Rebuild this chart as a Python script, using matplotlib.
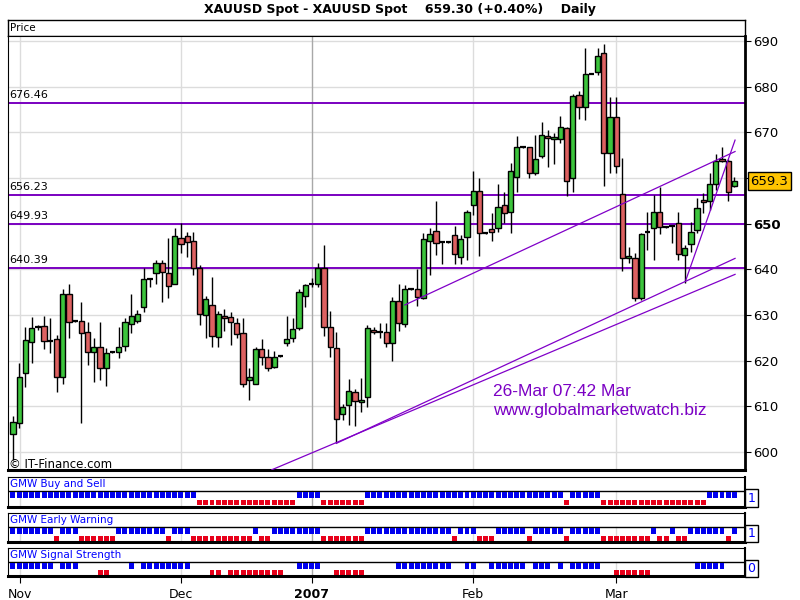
import matplotlib
matplotlib.use('Agg')
import matplotlib.pyplot as plt
from matplotlib.patches import Rectangle

opens = [603.9, 606.3, 617.2, 624.0, 627.3, 627.5, 624.5, 624.7, 616.5, 634.7,
         628.6, 628.7, 626.2, 621.8, 623.1, 618.3, 621.8, 621.8, 623.3, 628.0,
         628.7, 631.7, 637.8, 639.1, 641.3, 639.3, 636.9, 646.8, 647.2, 646.1,
         640.2, 630.0, 632.3, 625.1, 629.8, 629.5, 628.2, 626.0, 615.8, 615.0,
         622.5, 620.7, 618.7, 621.0, 623.8, 625.0, 627.1, 634.2, 636.6, 636.8,
         640.2, 627.3, 622.7, 608.3, 610.4, 613.1, 610.9, 612.1, 626.7, 626.3,
         626.2, 623.8, 633.1, 628.0, 635.6, 635.6, 633.7, 646.3, 648.4, 645.9,
         645.9, 647.5, 642.6, 647.0, 654.2, 657.1, 647.9, 648.8, 649.0, 654.2,
         652.5, 660.2, 666.7, 666.7, 661.2, 664.8, 669.2, 668.5, 668.5, 670.9,
         659.9, 678.2, 675.6, 682.8, 683.3, 687.3, 665.4, 673.3, 656.6, 642.4,
         642.4, 633.7, 647.9, 649.0, 652.5, 649.2, 649.3, 650.1, 643.1, 645.5,
         648.6, 655.1, 654.9, 658.6, 664.2, 663.8, 658.3]
highs = [607.9, 619.6, 627.3, 629.5, 627.8, 629.8, 629.3, 625.6, 635.8, 636.9,
         628.8, 632.8, 628.5, 624.9, 628.4, 622.7, 621.9, 627.3, 629.3, 634.7,
         631.1, 640.4, 637.9, 642.0, 642.0, 646.8, 649.0, 650.1, 648.2, 648.2,
         641.0, 634.2, 638.4, 630.9, 631.3, 630.6, 629.3, 629.3, 618.3, 623.1,
         624.7, 622.5, 622.1, 621.1, 629.8, 629.3, 635.8, 636.9, 638.0, 641.4,
         645.3, 630.9, 626.3, 610.5, 615.9, 613.7, 616.1, 627.8, 627.4, 628.2,
         628.2, 634.0, 636.7, 636.6, 635.7, 640.1, 647.9, 649.1, 655.0, 646.0,
         646.0, 649.5, 647.5, 653.0, 661.5, 659.9, 648.0, 652.3, 658.6, 656.9,
         663.2, 669.2, 666.8, 666.7, 669.4, 672.3, 670.5, 669.9, 673.6, 671.2,
         678.5, 679.0, 688.4, 682.9, 688.4, 689.3, 677.7, 677.7, 664.4, 645.0,
         643.5, 648.0, 652.5, 656.2, 658.1, 649.3, 649.4, 652.5, 645.3, 650.3,
         655.6, 656.7, 661.0, 665.3, 666.7, 664.2, 660.2]
lows = [598.2, 605.3, 614.3, 619.4, 626.8, 622.5, 621.7, 613.2, 615.0, 625.0,
        628.4, 606.3, 619.0, 615.4, 615.8, 614.5, 621.7, 620.5, 622.2, 626.1,
        628.3, 630.6, 636.2, 636.9, 632.9, 633.7, 636.8, 643.5, 642.8, 638.8,
        627.8, 624.9, 623.1, 623.1, 626.6, 623.4, 624.9, 614.3, 611.4, 615.0,
        619.0, 617.8, 618.3, 620.9, 623.3, 624.0, 626.7, 631.8, 636.1, 636.1,
        625.3, 620.7, 601.9, 607.0, 605.9, 605.7, 608.8, 609.9, 625.8, 624.9,
        622.9, 620.0, 626.5, 627.3, 635.5, 632.0, 633.5, 638.8, 643.1, 641.1,
        645.8, 641.1, 641.1, 642.0, 651.9, 643.0, 647.8, 646.1, 648.1, 650.1,
        647.9, 657.0, 666.6, 659.9, 660.7, 664.3, 662.5, 663.0, 667.6, 656.0,
        657.0, 672.9, 672.7, 682.7, 682.5, 658.3, 661.2, 661.2, 639.6, 641.3,
        633.0, 633.2, 644.2, 642.0, 647.7, 649.1, 645.7, 642.0, 637.0, 643.9,
        647.9, 652.3, 653.0, 657.4, 663.6, 655.0, 658.1]
closes = [606.6, 616.4, 624.5, 627.1, 627.4, 624.3, 624.4, 616.4, 634.5, 628.5,
          628.6, 626.0, 621.8, 623.1, 618.5, 621.7, 621.8, 622.9, 628.4, 629.8,
          630.2, 637.8, 637.9, 641.3, 639.5, 636.4, 647.2, 645.5, 645.9, 640.2,
          630.2, 633.4, 625.4, 630.2, 629.3, 628.5, 625.8, 615.0, 616.4, 622.5,
          620.9, 618.3, 620.9, 621.0, 624.7, 626.9, 635.0, 636.5, 636.7, 640.4,
          627.4, 623.1, 607.2, 609.8, 613.4, 611.2, 611.4, 627.1, 626.2, 626.3,
          623.8, 633.1, 628.2, 635.6, 635.6, 634.0, 646.6, 647.7, 645.7, 645.9,
          645.9, 643.3, 646.6, 652.6, 657.1, 647.9, 647.9, 648.1, 653.6, 652.3,
          661.6, 666.7, 666.7, 661.2, 664.1, 669.4, 668.7, 668.9, 671.1, 659.3,
          678.0, 675.5, 682.8, 682.8, 686.7, 665.4, 673.3, 662.6, 642.4, 643.0,
          633.7, 647.7, 648.1, 652.5, 649.2, 649.2, 649.4, 643.4, 644.6, 648.1,
          653.4, 654.7, 658.6, 663.8, 663.7, 657.0, 659.3]

# signals: 1 = blue (upper row), -1 = red (lower row), 0 = none
buy_sell = [1]*30 + [-1]*16 + [1]*4 + [-1]*7 + [1]*32 + [-1]*1 + [1]*5 + [-1]*17 + [1]*5
early_warning = ([1]*7 + [-1] + [1]*3 + [-1]*6 + [1]*8 + [-1] + [1]*3 + [-1]*10 + [1] + [-1]*2 +
                 [1]*8 + [-1]*7 + [1]*14 + [-1] + [1]*3 + [-1]*3 + [1]*5 + [-1] + [1]*5 + [-1] +
                 [1]*5 + [-1]*8 + [1] + [-1]*2 + [1] + [-1]*2 + [1]*6 + [-1] + [1])
signal_strength = ([1]*7 + [0] + [1]*3 + [0]*3 + [-1]*2 + [0]*3 + [1] + [0] + [1]*8 + [0]*3 +
                   [-1]*2 + [0] + [-1]*9 + [0]*2 + [1]*4 + [0]*2 + [-1]*5 + [0]*5 + [1]*9 +
                   [0]*2 + [1]*2 + [0]*2 + [1]*6 + [0] + [1]*3 + [0] + [1] + [0] + [1]*5 +
                   [0]*2 + [-1]*6 + [0]*7 + [1]*5 + [0]*2)

level_lines = [676.46, 656.23, 649.93, 640.39]
trend_lines = [((52, 601.9), (116.1, 642.4)),
               ((41.6, 596.1), (116.1, 638.9)),
               ((63.0, 632.2), (116.1, 665.8)),
               ((108.2, 637.7), (116.1, 668.3))]
month_pos = [1.1, 27, 48, 74, 97]
month_labels = ['Nov', 'Dec', '2007', 'Feb', 'Mar']
price_ticks = [600, 610, 620, 630, 640, 650, 660, 670, 680, 690]
last_price = 659.3

W, H = 800, 600
fig = plt.figure(figsize=(8, 6), dpi=100)
fig.patch.set_facecolor('white')

def ax_px(x0, y0, x1, y1):
    return fig.add_axes([x0 / W, 1 - y1 / H, (x1 - x0) / W, (y1 - y0) / H])

XMIN, XMAX = -0.8, 117.7
n = len(opens)
xs = list(range(n))

# title
fig.text(0.5, 1 - 10 / H, 'XAUUSD Spot - XAUUSD Spot    659.30 (+0.40%)    Daily',
         ha='center', va='center', fontsize=9, fontweight='bold')

# header strip
hax = ax_px(8, 20, 745, 36)
hax.set_xticks([]); hax.set_yticks([])
for s in hax.spines.values():
    s.set_linewidth(1)
hax.text(0.003, 0.5, 'Price', transform=hax.transAxes, va='center', ha='left', fontsize=7.5)

# main price axes
ax = ax_px(8, 36, 745, 470)
ax.set_xlim(XMIN, XMAX)
ax.set_ylim(596.06, 691.1)
for p in price_ticks:
    ax.axhline(p, color='#dcdcdc', lw=1, zorder=0)
for m, lab in zip(month_pos, month_labels):
    ax.axvline(m, color='#a8a8a8' if lab == '2007' else '#dcdcdc', lw=1, zorder=0)

for lv in level_lines:
    ax.axhline(lv, color='#7a00c0', lw=1.4, zorder=1)
    ax.text(XMIN + 0.2, lv + 0.6, f'{lv:.2f}', fontsize=8, va='bottom', ha='left')

ax.vlines(xs, lows, highs, color='black', lw=1, zorder=2)
for i in range(n):
    o, c = opens[i], closes[i]
    col = '#3cc43c' if c >= o else '#dd6161'
    hgt = abs(c - o)
    if hgt < 0.3:
        ax.hlines(c, i - 0.45, i + 0.45, color='black', lw=1.6, zorder=3)
    else:
        ax.add_patch(Rectangle((i - 0.42, min(o, c)), 0.84, hgt, facecolor=col,
                               edgecolor='black', lw=1, zorder=3))

for (x0, y0), (x1, y1) in trend_lines:
    ax.plot([x0, x1], [y0, y1], color='#8000c8', lw=0.9, zorder=4)

ax.yaxis.tick_right()
ax.set_yticks(price_ticks)
# the 660 label is hidden behind the last-price box in the original
ax.set_yticklabels(['' if p == 660 else str(p) for p in price_ticks])
ax.tick_params(axis='y', direction='out', length=4, labelsize=9.5, pad=2)
for t in ax.get_yticklabels():
    if t.get_text() == '650':
        t.set_fontweight('bold')
ax.set_xticks([])
ax.spines['bottom'].set_linewidth(2.2)
ax.spines['right'].set_linewidth(2)

ax.annotate(f'{last_price:.1f}', xy=(1, last_price), xycoords=('axes fraction', 'data'),
            xytext=(4, 0), textcoords='offset points', fontsize=9.5, va='center', ha='left',
            bbox=dict(facecolor='#ffc400', edgecolor='black', pad=1.6, lw=1), annotation_clip=False)
fig.text(493 / W, 1 - 391 / H, '26-Mar 07:42 Mar', fontsize=12.5, color='#7b00c4',
         family='Liberation Sans', va='center', ha='left')
fig.text(493 / W, 1 - 411 / H, 'www.globalmarketwatch.biz', fontsize=12.5, color='#7b00c4',
         family='Liberation Sans', va='center', ha='left')
fig.text(9 / W, 1 - 465 / H, '\u00a9 IT-Finance.com', fontsize=8.5, va='center', ha='left')

# indicator panels
panels = [('GMW Buy and Sell', buy_sell, 477.3, 506.7, '1'),
          ('GMW Early Warning', early_warning, 513.3, 541.7, '1'),
          ('GMW Signal Strength', signal_strength, 548.3, 576.0, '0')]
for k, (name, sig, top, bot, lab) in enumerate(panels):
    pax = ax_px(8, top, 745, bot)
    pax.set_xlim(XMIN, XMAX)
    pax.set_ylim(1, 0)
    hdr = 14.0 / (bot - top)
    pax.axhline(hdr, color='black', lw=1)
    for m, ml in zip(month_pos, month_labels):
        pax.plot([m, m], [hdr, 1], color='#a8a8a8' if ml == '2007' else '#dcdcdc', lw=1, zorder=0)
    pax.text(XMIN + 0.3, hdr / 2, name, fontsize=7.5, color='#0000ff', va='center', ha='left')
    for i, v in enumerate(sig):
        if v == 1:
            pax.add_patch(Rectangle((i - 0.4, hdr + 0.035), 0.8, 0.19, facecolor='#0000ee', lw=0, zorder=2))
        elif v == -1:
            pax.add_patch(Rectangle((i - 0.4, hdr + 0.29), 0.8, 0.19, facecolor='#e8001a', lw=0, zorder=2))
    pax.set_yticks([])
    pax.spines['bottom'].set_linewidth(2.2)
    pax.spines['right'].set_linewidth(1.5)
    fig.text(747.5 / W, 1 - (top + bot + 12) / 2 / H, lab, fontsize=9, color='#0000ff',
             va='center', ha='left', bbox=dict(facecolor='white', edgecolor='black', pad=1.5, lw=1))
    if k == 2:
        pax.set_xticks(month_pos)
        pax.set_xticklabels(month_labels)
        pax.tick_params(axis='x', direction='out', length=5, labelsize=9, pad=4)
        for t in pax.get_xticklabels():
            if t.get_text() == '2007':
                t.set_fontweight('bold')
    else:
        pax.set_xticks([])

fig.savefig('out.png', dpi=100, facecolor='white')
